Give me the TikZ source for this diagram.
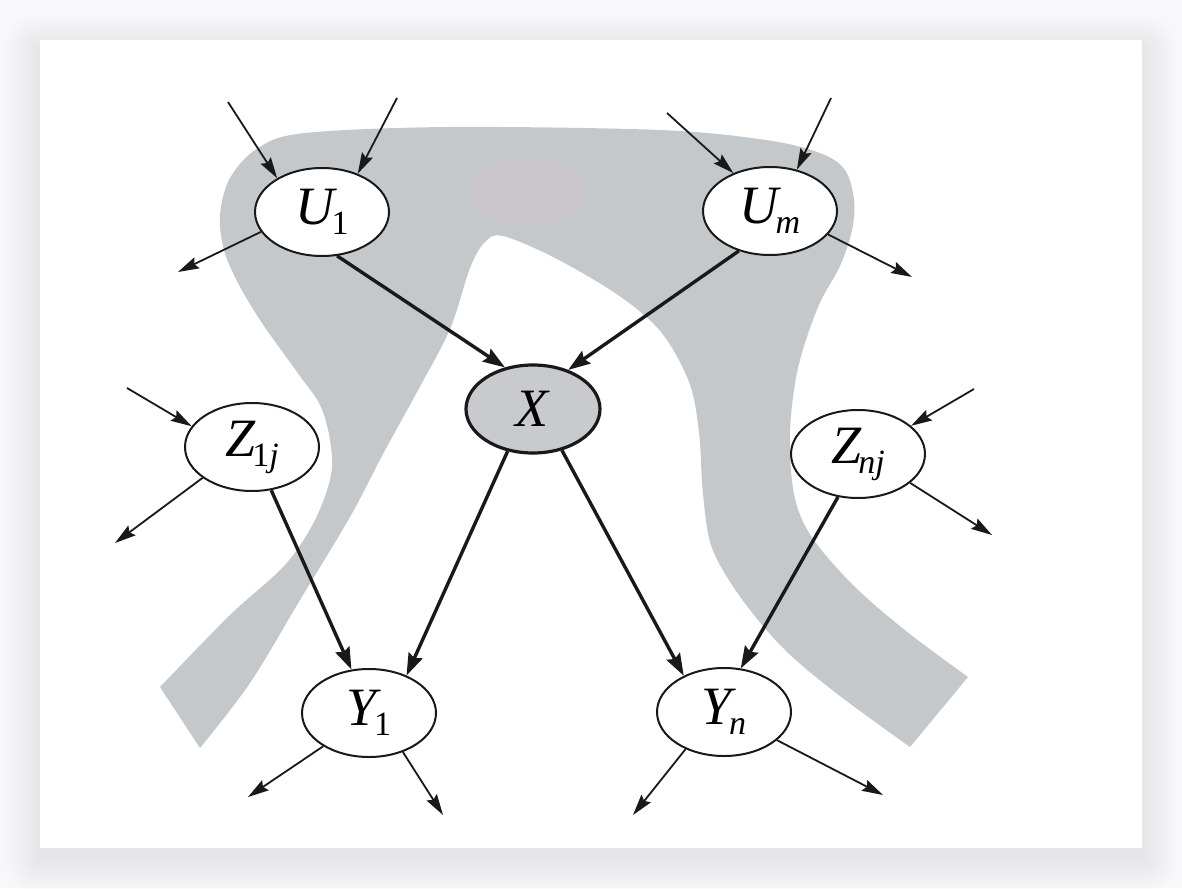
\documentclass[tikz,border=0pt]{standalone}
\usepackage{fontspec}
\setmainfont{Liberation Serif}
\newfontfamily\timesfam{Liberation Serif}
\usetikzlibrary{shapes.geometric,arrows.meta}
\definecolor{pagebg}{RGB}{248,248,250}
\definecolor{band}{RGB}{197,200,203}
\definecolor{blob}{RGB}{202,197,200}
\definecolor{xfill}{RGB}{200,202,205}
\definecolor{ink}{RGB}{25,25,25}
\newcommand{\lbl}[2]{{\itshape #1}\kern-1.5pt\raisebox{-5pt}{\fontsize{17}{17}\selectfont #2}}
\tikzset{
  var/.style={ellipse,draw=ink,line width=1pt,fill=white,minimum width=67pt,minimum height=44pt,inner sep=0pt,font=\timesfam\fontsize{27}{30}\selectfont},
  query/.style={var,fill=xfill,line width=1.6pt},
  thinarr/.style={draw=ink,line width=0.9pt,-{Stealth[length=10.5pt,width=6pt,inset=1.5pt]}},
  thickarr/.style={draw=ink,line width=1.7pt,-{Stealth[length=11pt,width=7.5pt,inset=1.5pt]}}
}
\begin{document}
\begin{tikzpicture}[x=0.5pt,y=-0.5pt]
\useasboundingbox (0,0) rectangle (1182,888);
\fill[pagebg] (0,0) rectangle (1182,888);
\foreach \d in {2,4,...,36}{
  \fill[black,opacity=0.004,rounded corners=\d*0.5pt] (40-\d,40-\d+10) rectangle (1142+\d,848+\d+10);
}
\fill[white] (40,40) rectangle (1142,848);
% gray band (Markov blanket)
\fill[band] plot[smooth,tension=0.55] coordinates {
  (160,687) (230,615) (285,565) (315,520) (331,475) (330,440) (320,405) (297,372)
  (262,323) (238,283) (224,250) (220,215) (230,178) (258,148) (305,133) (450,127)
  (660,130) (766,140) (820,153) (845,170) (854,200) (852,230) (840,266) (818,307)
  (798,368) (790,432) (794,494) (811,536) (853,585) (906,631) (968,677)}
  -- plot[smooth,tension=0.55] coordinates {
  (910,747) (836,693) (783,648) (741,598) (712,548) (703,494) (699,432) (689,382)
  (661,332) (618,295) (555,258) (503,236) (485,242) (470,268) (450,329) (417,392)
  (383,454) (350,517) (300,600) (250,683) (200,748)} -- cycle;
\fill[blob] (527,191) ellipse [x radius=57,y radius=34];
% nodes
\node[var] (U1) at (322,212) {\lbl{U}{1}};
\node[var] (Um) at (770,211) {\lbl{U}{\textit{m}}};
\node[query] (X) at (533,409) {\textit{X}};
\node[var] (Z1) at (252,447) {\lbl{Z}{1\textit{j}}};
\node[var] (Zn) at (858,454) {\lbl{Z}{\textit{nj}}};
\node[var] (Y1) at (369,713) {\lbl{Y}{1}};
\node[var] (Yn) at (724,712) {\lbl{Y}{\textit{n}}};
% free ends
\coordinate (u1a) at (228,102);
\coordinate (u1b) at (397,98);
\coordinate (u1c) at (178,272);
\coordinate (uma) at (667,113);
\coordinate (umb) at (831,98);
\coordinate (umc) at (912,277);
\coordinate (z1a) at (127,388);
\coordinate (z1b) at (115,543);
\coordinate (zna) at (974,389);
\coordinate (znb) at (992,535);
\coordinate (y1a) at (248,797);
\coordinate (y1b) at (443,815);
\coordinate (yna) at (633,815);
\coordinate (ynb) at (883,795);
% thick edges
\draw[thickarr] (U1.-71) -- (X.124);
\draw[thickarr] (Um.-128) -- (X.48);
\draw[thickarr] (X.-121) -- (Y1.45);
\draw[thickarr] (X.-55) -- (Yn.138);
\draw[thickarr] (Z1.-66) -- (Y1.112);
\draw[thickarr] (Zn.-115) -- (Yn.69);
% thin stubs
\draw[thinarr] (u1a) -- (U1.143);
\draw[thinarr] (u1b) -- (U1.47);
\draw[thinarr] (U1.198) -- (u1c);
\draw[thinarr] (uma) -- (Um.134);
\draw[thinarr] (umb) -- (Um.57);
\draw[thinarr] (Um.-22) -- (umc);
\draw[thinarr] (z1a) -- (Z1.161);
\draw[thinarr] (Z1.212) -- (z1b);
\draw[thinarr] (zna) -- (Zn.28);
\draw[thinarr] (Zn.-29) -- (znb);
\draw[thinarr] (Y1.216) -- (y1a);
\draw[thinarr] (Y1.-49) -- (y1b);
\draw[thinarr] (Yn.224) -- (yna);
\draw[thinarr] (Yn.-28) -- (ynb);
\end{tikzpicture}
\end{document}
